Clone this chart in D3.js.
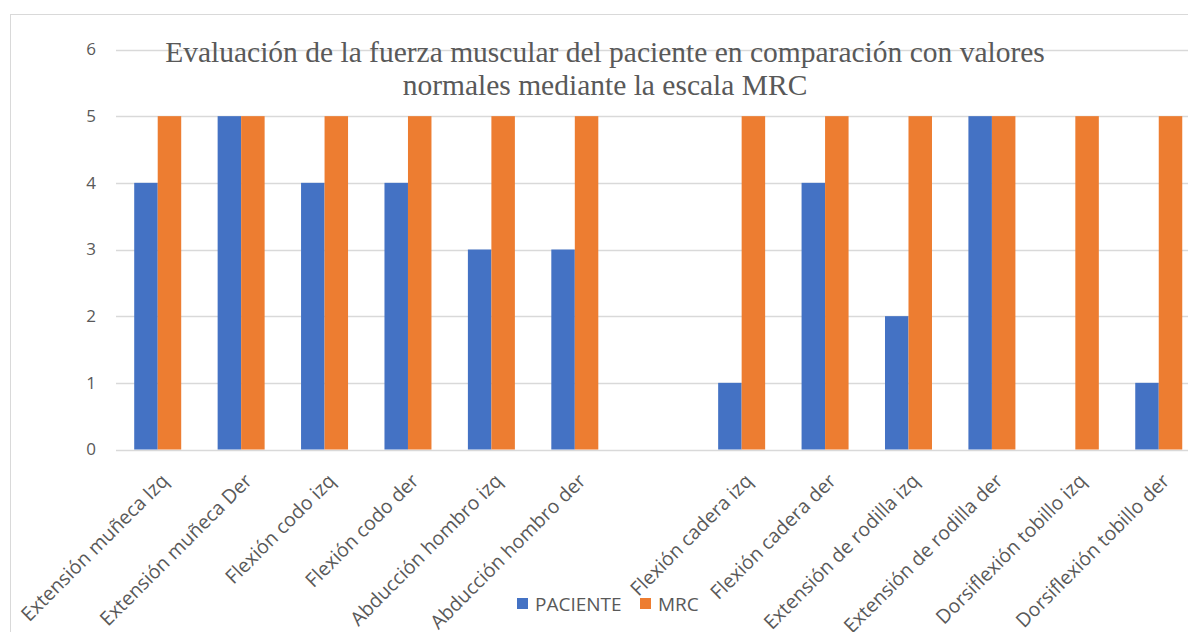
<!DOCTYPE html>
<html><head><meta charset="utf-8">
<script src="https://cdn.jsdelivr.net/npm/d3@7"></script>
<style>body{margin:0;background:#fff;}svg{display:block;}</style>
</head><body>
<svg id="c" width="1188" height="632"></svg>
<script>
const categories = ["Extensión muñeca Izq","Extensión muñeca Der","Flexión codo izq","Flexión codo der","Abducción hombro izq","Abducción hombro der","","Flexión cadera izq","Flexión cadera der","Extensión de rodilla izq","Extensión de rodilla der","Dorsiflexión tobillo izq","Dorsiflexión tobillo der"];
const paciente = [4,5,4,4,3,3,null,1,4,2,5,0,1];
const mrc = [5,5,5,5,5,5,null,5,5,5,5,5,5];
const seriesNames = ["PACIENTE","MRC"];
const colors = ["#4472C4","#ED7D31"];
const yTicks = [0,1,2,3,4,5,6];
const titleLines = ["Evaluación de la fuerza muscular del paciente en comparación con valores","normales mediante la escala MRC"];

(function(){
const svg = d3.select("#c");
const font = "'Open Sans', 'Segoe UI', sans-serif";
svg.append("rect").attr("x",10.5).attr("y",14.5).attr("width",1300).attr("height",700)
  .attr("fill","#fff").attr("stroke","#d9d9d9").attr("stroke-width",1);

const pl = 116, pr = 116 + 13*83.42, pt = 49.5, pb = 449.5;
const x = d3.scaleBand().domain(d3.range(categories.length)).range([pl,pr]).paddingInner(0).paddingOuter(0);
const inner = d3.scaleBand().domain([0,1]).range([0,x.bandwidth()]).paddingInner(0).paddingOuter(0.775);
const y = d3.scaleLinear().domain([0,6]).range([pb,pt]);

svg.append("g").selectAll("line").data(yTicks).join("line")
  .attr("x1",pl).attr("x2",pr)
  .attr("y1",d=>Math.round(y(d))+0.5).attr("y2",d=>Math.round(y(d))+0.5)
  .attr("stroke","#d9d9d9").attr("stroke-width",1.3);

svg.append("g").selectAll("text").data(yTicks).join("text")
  .attr("x",96).attr("y",d=>y(d)).attr("dy","0.35em").attr("text-anchor","end")
  .attr("font-family",font).attr("font-size",17).attr("fill","#595959").text(d=>d);

const series = [paciente, mrc];
series.forEach((vals,si)=>{
  svg.append("g").selectAll("rect").data(vals.map((v,i)=>({v,i})).filter(d=>d.v!=null && d.v>0)).join("rect")
    .attr("x",d=>x(d.i)+inner(si)).attr("width",inner.bandwidth())
    .attr("y",d=>y(d.v)).attr("height",d=>y(0)-y(d.v))
    .attr("fill",colors[si]);
});

svg.append("g").selectAll("text").data(categories.map((c,i)=>({c,i}))).join("text")
  .attr("transform",d=>`translate(${x(d.i)+x.bandwidth()/2+12},${482}) rotate(-45)`)
  .attr("text-anchor","end").attr("font-family",font).attr("font-size",19.5).attr("fill","#595959")
  .text(d=>d.c);

svg.append("g").selectAll("text").data(titleLines).join("text")
  .attr("x",605).attr("y",(d,i)=>62+i*33).attr("text-anchor","middle")
  .attr("font-family","'Liberation Serif','Times New Roman',serif").attr("font-size",29.5).attr("fill","#595959")
  .text(d=>d);

const leg = svg.append("g");
const legX = [517, 640];
seriesNames.forEach((n,i)=>{
  leg.append("rect").attr("x",legX[i]).attr("y",598).attr("width",11).attr("height",11).attr("fill",colors[i]);
  leg.append("text").attr("x",legX[i]+18).attr("y",604).attr("dy","0.36em")
    .attr("font-family",font).attr("font-size",19).attr("fill","#595959").text(n);
});
})();
</script>
</body></html>
